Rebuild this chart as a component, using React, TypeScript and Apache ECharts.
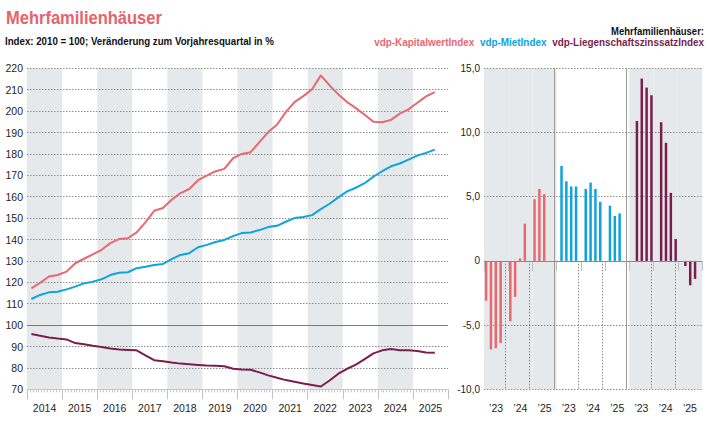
import React, { useEffect, useRef } from "react";
import * as echarts from "echarts";

// ---- data ----
const years = [2014, 2015, 2016, 2017, 2018, 2019, 2020, 2021, 2022, 2023, 2024, 2025];

// vdp indices (2010 = 100), quarterly 2014Q1 .. 2025Q3
const kapitalwertIndex = [
  117.2, 119.8, 122.7, 123.4,
  125.0, 128.9, 131.0, 133.1,
  135.2, 138.3, 140.2, 140.6,
  143.3, 148.0, 153.4, 154.7,
  158.6, 161.7, 163.6, 167.7,
  169.8, 171.9, 173.0, 178.0,
  180.0, 180.8, 185.5, 190.2,
  193.6, 199.5, 204.2, 207.0,
  210.2, 216.7, 212.0, 207.8,
  204.2, 201.4, 198.3, 195.0,
  194.8, 195.9, 198.8, 200.8,
  203.9, 206.9, 208.9,
];
const mietIndex = [
  112.2, 114.1, 115.3, 115.6,
  116.7, 118.0, 119.5, 120.3,
  121.4, 123.4, 124.5, 124.7,
  126.6, 127.3, 128.1, 128.6,
  130.8, 132.8, 133.6, 136.4,
  137.5, 138.8, 139.8, 141.6,
  143.0, 143.3, 144.4, 145.8,
  146.4, 148.3, 150.0, 150.5,
  151.4, 154.2, 156.7, 159.7,
  162.5, 164.2, 166.3, 169.4,
  171.9, 174.2, 175.5, 177.3,
  179.2, 180.5, 182.0,
];
const liegenschaftszinsIndex = [
  95.8, 95.0, 94.2, 93.7,
  93.3, 91.6, 91.0, 90.3,
  89.8, 89.1, 88.6, 88.4,
  88.2, 85.9, 83.6, 83.1,
  82.5, 82.0, 81.7, 81.4,
  81.1, 81.0, 80.8, 79.6,
  79.3, 79.1, 77.9, 76.5,
  75.4, 74.3, 73.5, 72.7,
  72.0, 71.3, 74.1, 77.3,
  79.6, 81.5, 84.1, 86.8,
  88.2, 88.8, 88.3, 88.2,
  87.9, 87.2, 87.1,
];

// year-on-year change in %, quarterly 2023Q1 .. 2025Q3
const barYearLabels = ["\u201923", "\u201924", "\u201925"];
const kapitalwertYoY = [-3.1, -6.9, -6.8, -6.4, -4.7, -2.8, 0.2, 2.9, 4.8, 5.6, 5.2];
const mietYoY = [7.4, 6.2, 5.8, 5.8, 5.6, 6.1, 5.6, 4.6, 4.3, 3.5, 3.7];
const liegenschaftszinsYoY = [10.9, 14.2, 13.5, 12.9, 10.8, 9.2, 5.3, 1.7, -0.4, -1.9, -1.4];

const leftTicks = [70, 80, 90, 100, 110, 120, 130, 140, 150, 160, 170, 180, 190, 200, 210, 220];

const titleText = "Mehrfamilienhäuser";
const subtitleText = "Index: 2010 = 100; Veränderung zum Vorjahresquartal in %";
const legendHead = "Mehrfamilienhäuser:";
const legendNames = ["vdp-KapitalwertIndex", "vdp-MietIndex", "vdp-LiegenschaftszinssatzIndex"];

// ---- styles ----
const RED = "#e8686f";
const BLUE = "#0ea3de";
const PURPLE = "#7b1e4e";
const BAND = "#e6e9ec";
const GRIDC = "#8f8f8f";
const TXT = "#1e1e1e";
const FAMILY = "Liberation Sans";
const SANS = "'Liberation Sans', Arial, sans-serif";

const quarterPoints = (vals: number[]) =>
  vals.map((v, i) => [years[0] + (i + 0.5) / 4, v]);
const panelPoints = (vals: number[], panel: number) =>
  vals.map((v, i) => [panel * 15 + Math.floor(i / 4) * 5 + (i % 4) + 1, v]);

function fitScale(text: string, size: number, target: number) {
  const ctx = document.createElement("canvas").getContext("2d");
  if (!ctx) return 0.82;
  ctx.font = `bold ${size}px "${FAMILY}"`;
  const w = ctx.measureText(text).width;
  return w > 0 ? Math.min(1, target / w) : 0.82;
}

export default function App() {
  const ref = useRef<HTMLDivElement>(null);
  useEffect(() => {
    if (!ref.current) return;
    const chart = echarts.init(ref.current, undefined, { renderer: "svg" });
    const dotted = [1.5, 1.5];
    const lblFont = { fontFamily: SANS, fontSize: 10.5, color: TXT };
    const bold = (size: number, fill: string) => ({
      fontFamily: SANS, fontSize: size, fontWeight: "bold", fill,
    });
    const legendLine = legendNames.join("  ");

    const option: any = {
      animation: false,
      backgroundColor: "#fff",
      grid: [
        { left: 27, top: 68.3, width: 421, height: 321 },
        { left: 484, top: 68.3, width: 218, height: 321 },
      ],
      xAxis: [
        {
          gridIndex: 0, type: "value", position: "bottom", min: 2014, max: 2026, interval: 1, z: 0,
          axisLine: { show: true, lineStyle: { color: "#c6c6c6", width: 1 } },
          axisTick: { show: true, length: 10, lineStyle: { color: "#c0c0c0" } },
          minorTick: { show: true, splitNumber: 12, length: 3, lineStyle: { color: "#c6c6c6" } },
          axisLabel: { show: false },
          splitLine: { show: false },
          splitArea: { show: true, areaStyle: { color: [BAND, "rgba(255,255,255,0)"] } },
        },
        {
          gridIndex: 0, type: "value", position: "bottom", min: 2014, max: 2026, interval: 0.5,
          axisLine: { show: false }, axisTick: { show: false }, splitLine: { show: false },
          axisLabel: {
            ...lblFont, margin: 13,
            formatter: (v: number) => (Math.abs((v % 1) - 0.5) < 0.01 ? String(Math.floor(v)) : ""),
          },
        },
        {
          gridIndex: 1, type: "value", position: "bottom", min: 0, max: 45, interval: 5, offset: 2, z: 0,
          axisLine: { show: false },
          axisTick: { show: true, length: 10, lineStyle: { color: "#c0c0c0" } },
          axisLabel: { show: false },
          splitLine: { show: false },
          splitArea: { show: true, areaStyle: { color: [BAND, BAND, BAND, "rgba(255,255,255,0)", "rgba(255,255,255,0)", "rgba(255,255,255,0)"] } },
        },
        {
          gridIndex: 1, type: "value", position: "bottom", min: 0, max: 45, interval: 2.5,
          axisLine: { show: false }, axisTick: { show: false }, splitLine: { show: false },
          axisLabel: {
            ...lblFont, margin: 13,
            formatter: (v: number) => {
              const r = v % 5;
              if (Math.abs(r - 2.5) > 0.01) return "";
              return barYearLabels[Math.floor((v % 15) / 5)];
            },
          },
        },
      ],
      yAxis: [
        {
          gridIndex: 0, type: "value", min: leftTicks[0], max: leftTicks[leftTicks.length - 1], interval: 10, z: 1,
          axisLine: { show: false }, axisTick: { show: false },
          axisLabel: { ...lblFont, margin: 4 },
          splitLine: {
            show: true,
            lineStyle: { type: dotted, color: leftTicks.map((t, i) => (i === 0 ? "rgba(0,0,0,0)" : GRIDC)) },
          },
        },
        {
          gridIndex: 1, type: "value", min: -10, max: 15, interval: 5, z: 1,
          axisLine: { show: false }, axisTick: { show: false },
          axisLabel: {
            ...lblFont, fontSize: 10, margin: 4,
            formatter: (v: number) => (v === 0 ? "0" : v.toFixed(1).replace(".", ",")),
          },
          splitLine: { show: true, lineStyle: { type: dotted, color: GRIDC } },
        },
      ],
      graphic: [
        {
          type: "text", x: 6, y: 8, scaleX: fitScale(titleText, 19, 156),
          style: { text: titleText, ...bold(19, "#e5646c"), verticalAlign: "top" },
        },
        {
          type: "text", x: 5, y: 36, scaleX: fitScale(subtitleText, 11, 269),
          style: { text: subtitleText, ...bold(11, "#111"), verticalAlign: "top" },
        },
        {
          type: "text", x: 704, y: 25, scaleX: fitScale(legendHead, 11.5, 93),
          style: { text: legendHead, ...bold(11.5, "#111"), align: "right", verticalAlign: "top" },
        },
        {
          type: "text", x: 704, y: 36, scaleX: fitScale(legendLine, 11.5, 330),
          style: {
            text: `{r|${legendNames[0]}}  {b|${legendNames[1]}}  {p|${legendNames[2]}}`,
            align: "right", verticalAlign: "top",
            ...bold(11.5, "#111"),
            rich: {
              r: bold(11.5, RED),
              b: bold(11.5, BLUE),
              p: bold(11.5, PURPLE),
            },
          },
        },
      ],
      series: [
        {
          name: legendNames[0], type: "line", xAxisIndex: 0, yAxisIndex: 0, z: 3,
          data: quarterPoints(kapitalwertIndex), showSymbol: false, symbol: "none",
          lineStyle: { color: RED, width: 2 }, itemStyle: { color: RED },
          markLine: {
            silent: true, symbol: "none", label: { show: false },
            lineStyle: { color: "#7a7a7a", width: 1, type: "solid" },
            data: [{ yAxis: 100 }],
          },
        },
        {
          name: legendNames[1], type: "line", xAxisIndex: 0, yAxisIndex: 0, z: 3,
          data: quarterPoints(mietIndex), showSymbol: false, symbol: "none",
          lineStyle: { color: BLUE, width: 2 }, itemStyle: { color: BLUE },
        },
        {
          name: legendNames[2], type: "line", xAxisIndex: 0, yAxisIndex: 0, z: 3,
          data: quarterPoints(liegenschaftszinsIndex), showSymbol: false, symbol: "none",
          lineStyle: { color: PURPLE, width: 2 }, itemStyle: { color: PURPLE },
        },
        {
          name: "Kapitalwert YoY", type: "bar", xAxisIndex: 2, yAxisIndex: 1, z: 3,
          barWidth: 2.5, data: panelPoints(kapitalwertYoY, 0), itemStyle: { color: RED },
          markLine: {
            silent: true, symbol: "none", label: { show: false },
            data: [
              { yAxis: 0, lineStyle: { color: "#8a8a8a", width: 1, type: "solid" } },
              { xAxis: 15, lineStyle: { color: "#9a9a9a", width: 1, type: "solid" } },
              { xAxis: 30, lineStyle: { color: "#9a9a9a", width: 1, type: "solid" } },
              ...[5, 10, 20, 25, 35, 40].map((x) => [
                { coord: [x, 0], lineStyle: { color: GRIDC, width: 1, type: dotted } },
                { coord: [x, -10] },
              ]),
            ],
          },
        },
        {
          name: "Miet YoY", type: "bar", xAxisIndex: 2, yAxisIndex: 1, z: 3,
          barWidth: 2.5, data: panelPoints(mietYoY, 1), itemStyle: { color: BLUE },
        },
        {
          name: "Liegenschaftszins YoY", type: "bar", xAxisIndex: 2, yAxisIndex: 1, z: 3,
          barWidth: 2.5, data: panelPoints(liegenschaftszinsYoY, 2), itemStyle: { color: PURPLE },
        },
      ],
    };
    chart.setOption(option);
    return () => chart.dispose();
  }, []);
  return (
    <div
      ref={ref}
      style={{ position: "fixed", left: 0, top: 0, width: 708, height: 422, background: "#fff" }}
    />
  );
}
